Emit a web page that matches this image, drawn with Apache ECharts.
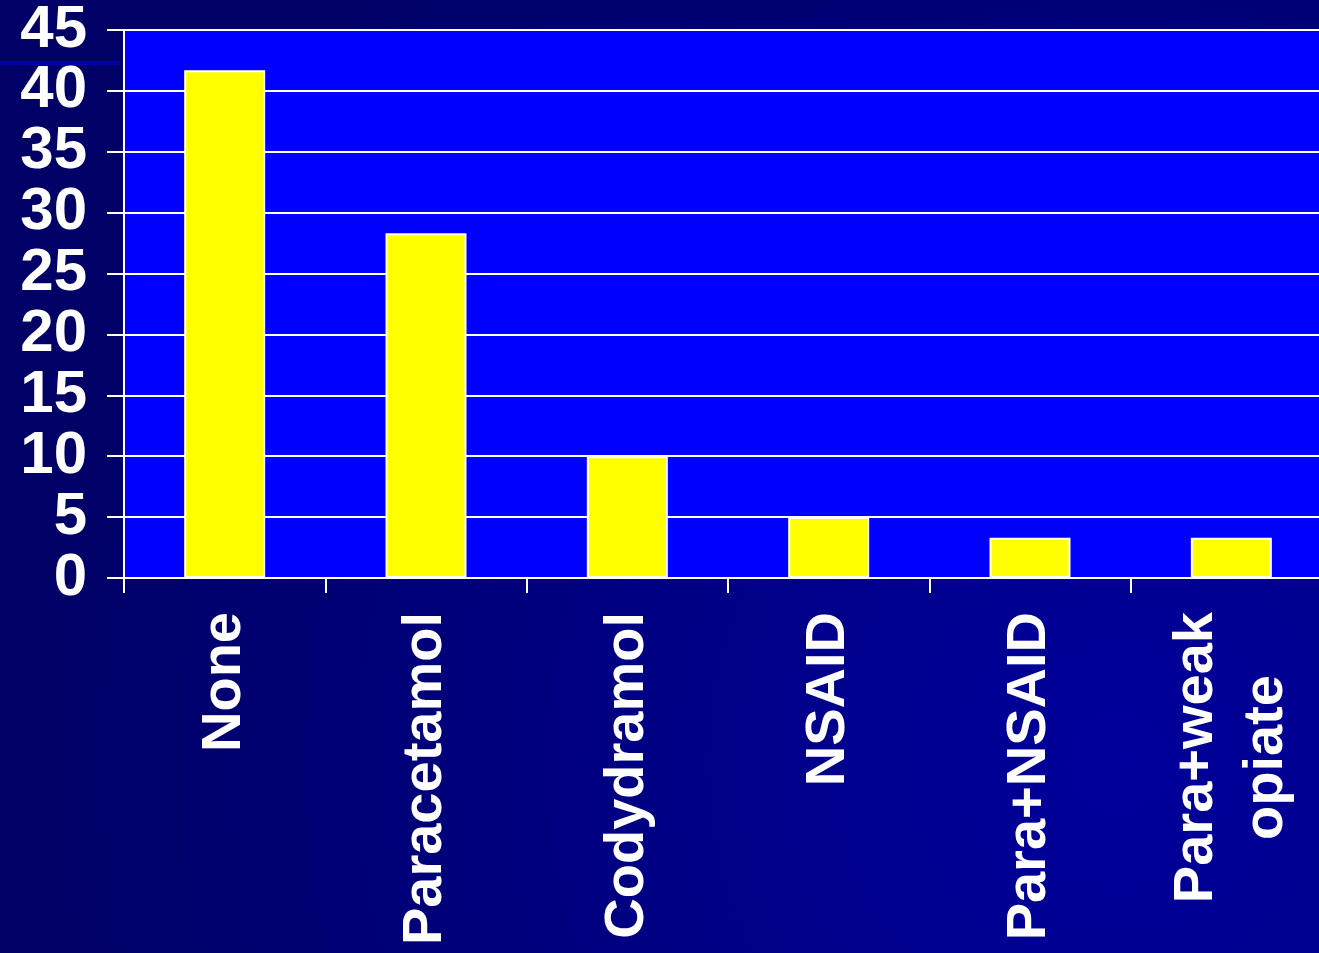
<!DOCTYPE html>
<html>
<head>
<meta charset="utf-8">
<script src="https://cdn.jsdelivr.net/npm/echarts@6/dist/echarts.min.js"></script>
<style>
  html, body { margin: 0; padding: 0; background: #000066; overflow: hidden; }
  #chart { width: 1319px; height: 953px; }
</style>
</head>
<body>
<div id="chart"></div>
<script>
const categories = ['None', 'Paracetamol', 'Codydramol', 'NSAID', 'Para+NSAID', 'Para+weak\nopiate'];
const values = [41.7, 28.3, 10, 5, 3.3, 3.3];
const yTicks = { min: 0, max: 45, interval: 5 };

const FONT = '"Liberation Sans", Arial, sans-serif';
const chart = echarts.init(document.getElementById('chart'));

chart.setOption({
  backgroundColor: {
    type: 'radial', x: 0.85, y: 0.8, r: 1.15,
    colorStops: [
      { offset: 0, color: '#00009C' },
      { offset: 1, color: '#000066' }
    ]
  },
  animation: false,
  graphic: [{
    type: 'rect', left: 0, top: 61, z: 1,
    shape: { width: 120, height: 4 },
    style: { fill: '#0000A8' }
  }],
  grid: {
    left: 124, top: 30, bottom: 375, width: 1208,
    outerBoundsMode: 'none',
    containLabel: false,
    show: true, backgroundColor: '#0000FF', borderWidth: 0
  },
  xAxis: {
    type: 'category',
    data: categories,
    axisLine: { show: true, lineStyle: { color: '#FFFFFF', width: 2 } },
    axisTick: { show: true, length: 15, lineStyle: { color: '#FFFFFF', width: 2 } },
    axisLabel: {
      rotate: 90,
      margin: 34,
      interval: 0,
      color: '#FFFFFF',
      fontFamily: FONT,
      fontWeight: 'bold',
      fontSize: 56,
      lineHeight: 70,
      formatter: v => v.split('\n').map(s => '{c|' + s + '}').join('\n'),
      rich: {
        c: {
          align: 'center', color: '#FFFFFF', fontFamily: FONT,
          fontWeight: 'bold', fontSize: 56, lineHeight: 70
        }
      }
    }
  },
  yAxis: {
    type: 'value',
    min: yTicks.min, max: yTicks.max, interval: yTicks.interval,
    axisLine: { show: true, lineStyle: { color: '#FFFFFF', width: 2 } },
    axisTick: { show: true, length: 17, lineStyle: { color: '#FFFFFF', width: 2 } },
    splitLine: { show: true, lineStyle: { color: '#FFFFFF', width: 2 } },
    axisLabel: {
      margin: 37,
      color: '#FFFFFF',
      fontFamily: FONT,
      fontWeight: 'bold',
      fontSize: 60
    }
  },
  series: [{
    type: 'bar',
    data: values,
    barWidth: 81,
    itemStyle: { color: '#FFFF00', borderColor: '#FFFFFF', borderWidth: 2 }
  }]
});
</script>
</body>
</html>
